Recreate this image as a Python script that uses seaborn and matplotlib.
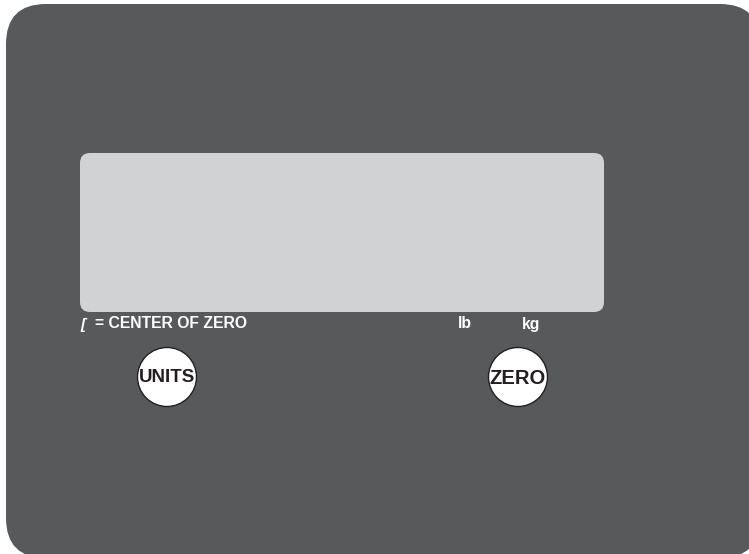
import seaborn as sns
import matplotlib.pyplot as plt
from matplotlib.patches import FancyBboxPatch, Circle

sns.set_theme(style='white')
plt.rcParams['font.family'] = ['Liberation Sans', 'DejaVu Sans']

# panel and display window (pixel units, y down)
panel_box = [6, 4, 760, 558]
screen_box = [80, 153, 604, 312]

# legend texts under the display
legend_labels = ['= CENTER OF ZERO', 'lb', 'kg']
legend_x = [95, 458, 522]

# buttons
button_labels = ['UNITS', 'ZERO']
button_x = [167, 518]
button_y = [377, 377]
button_fs = [13.5, 14.5]

panel_col = '#58595b'
screen_col = '#d1d2d4'

fig = plt.figure(figsize=(7.49, 5.54), dpi=100)
ax = fig.add_axes([0, 0, 1, 1])
ax.set_xlim(0, 749)
ax.set_ylim(554, 0)
ax.axis('off')

x0, y0, x1, y1 = panel_box
ax.add_patch(FancyBboxPatch((x0 + 40, y0 + 40), x1 - x0 - 80, y1 - y0 - 80,
                            boxstyle='round,pad=40', fc=panel_col, ec='none'))
x0, y0, x1, y1 = screen_box
ax.add_patch(FancyBboxPatch((x0 + 10, y0 + 10), x1 - x0 - 20, y1 - y0 - 20,
                            boxstyle='round,pad=10', fc=screen_col, ec='none'))

# center-of-zero glyph
ax.text(80, 329, '[', color='white', fontsize=11, style='italic',
        fontweight='bold', ha='left', va='baseline')
for lab, x in zip(legend_labels, legend_x):
    ax.text(x, 328.5, lab, color='white', fontsize=11.3, fontweight='bold',
            ha='left', va='baseline')

for lab, x, y, fs in zip(button_labels, button_x, button_y, button_fs):
    ax.add_patch(Circle((x, y), 29.5, fc='white', ec='#231f20', lw=1))
    ax.text(x, y + 1, lab, color='#231f20', fontsize=fs, fontweight='bold',
            ha='center', va='center')

fig.savefig('out.png', dpi=100)
